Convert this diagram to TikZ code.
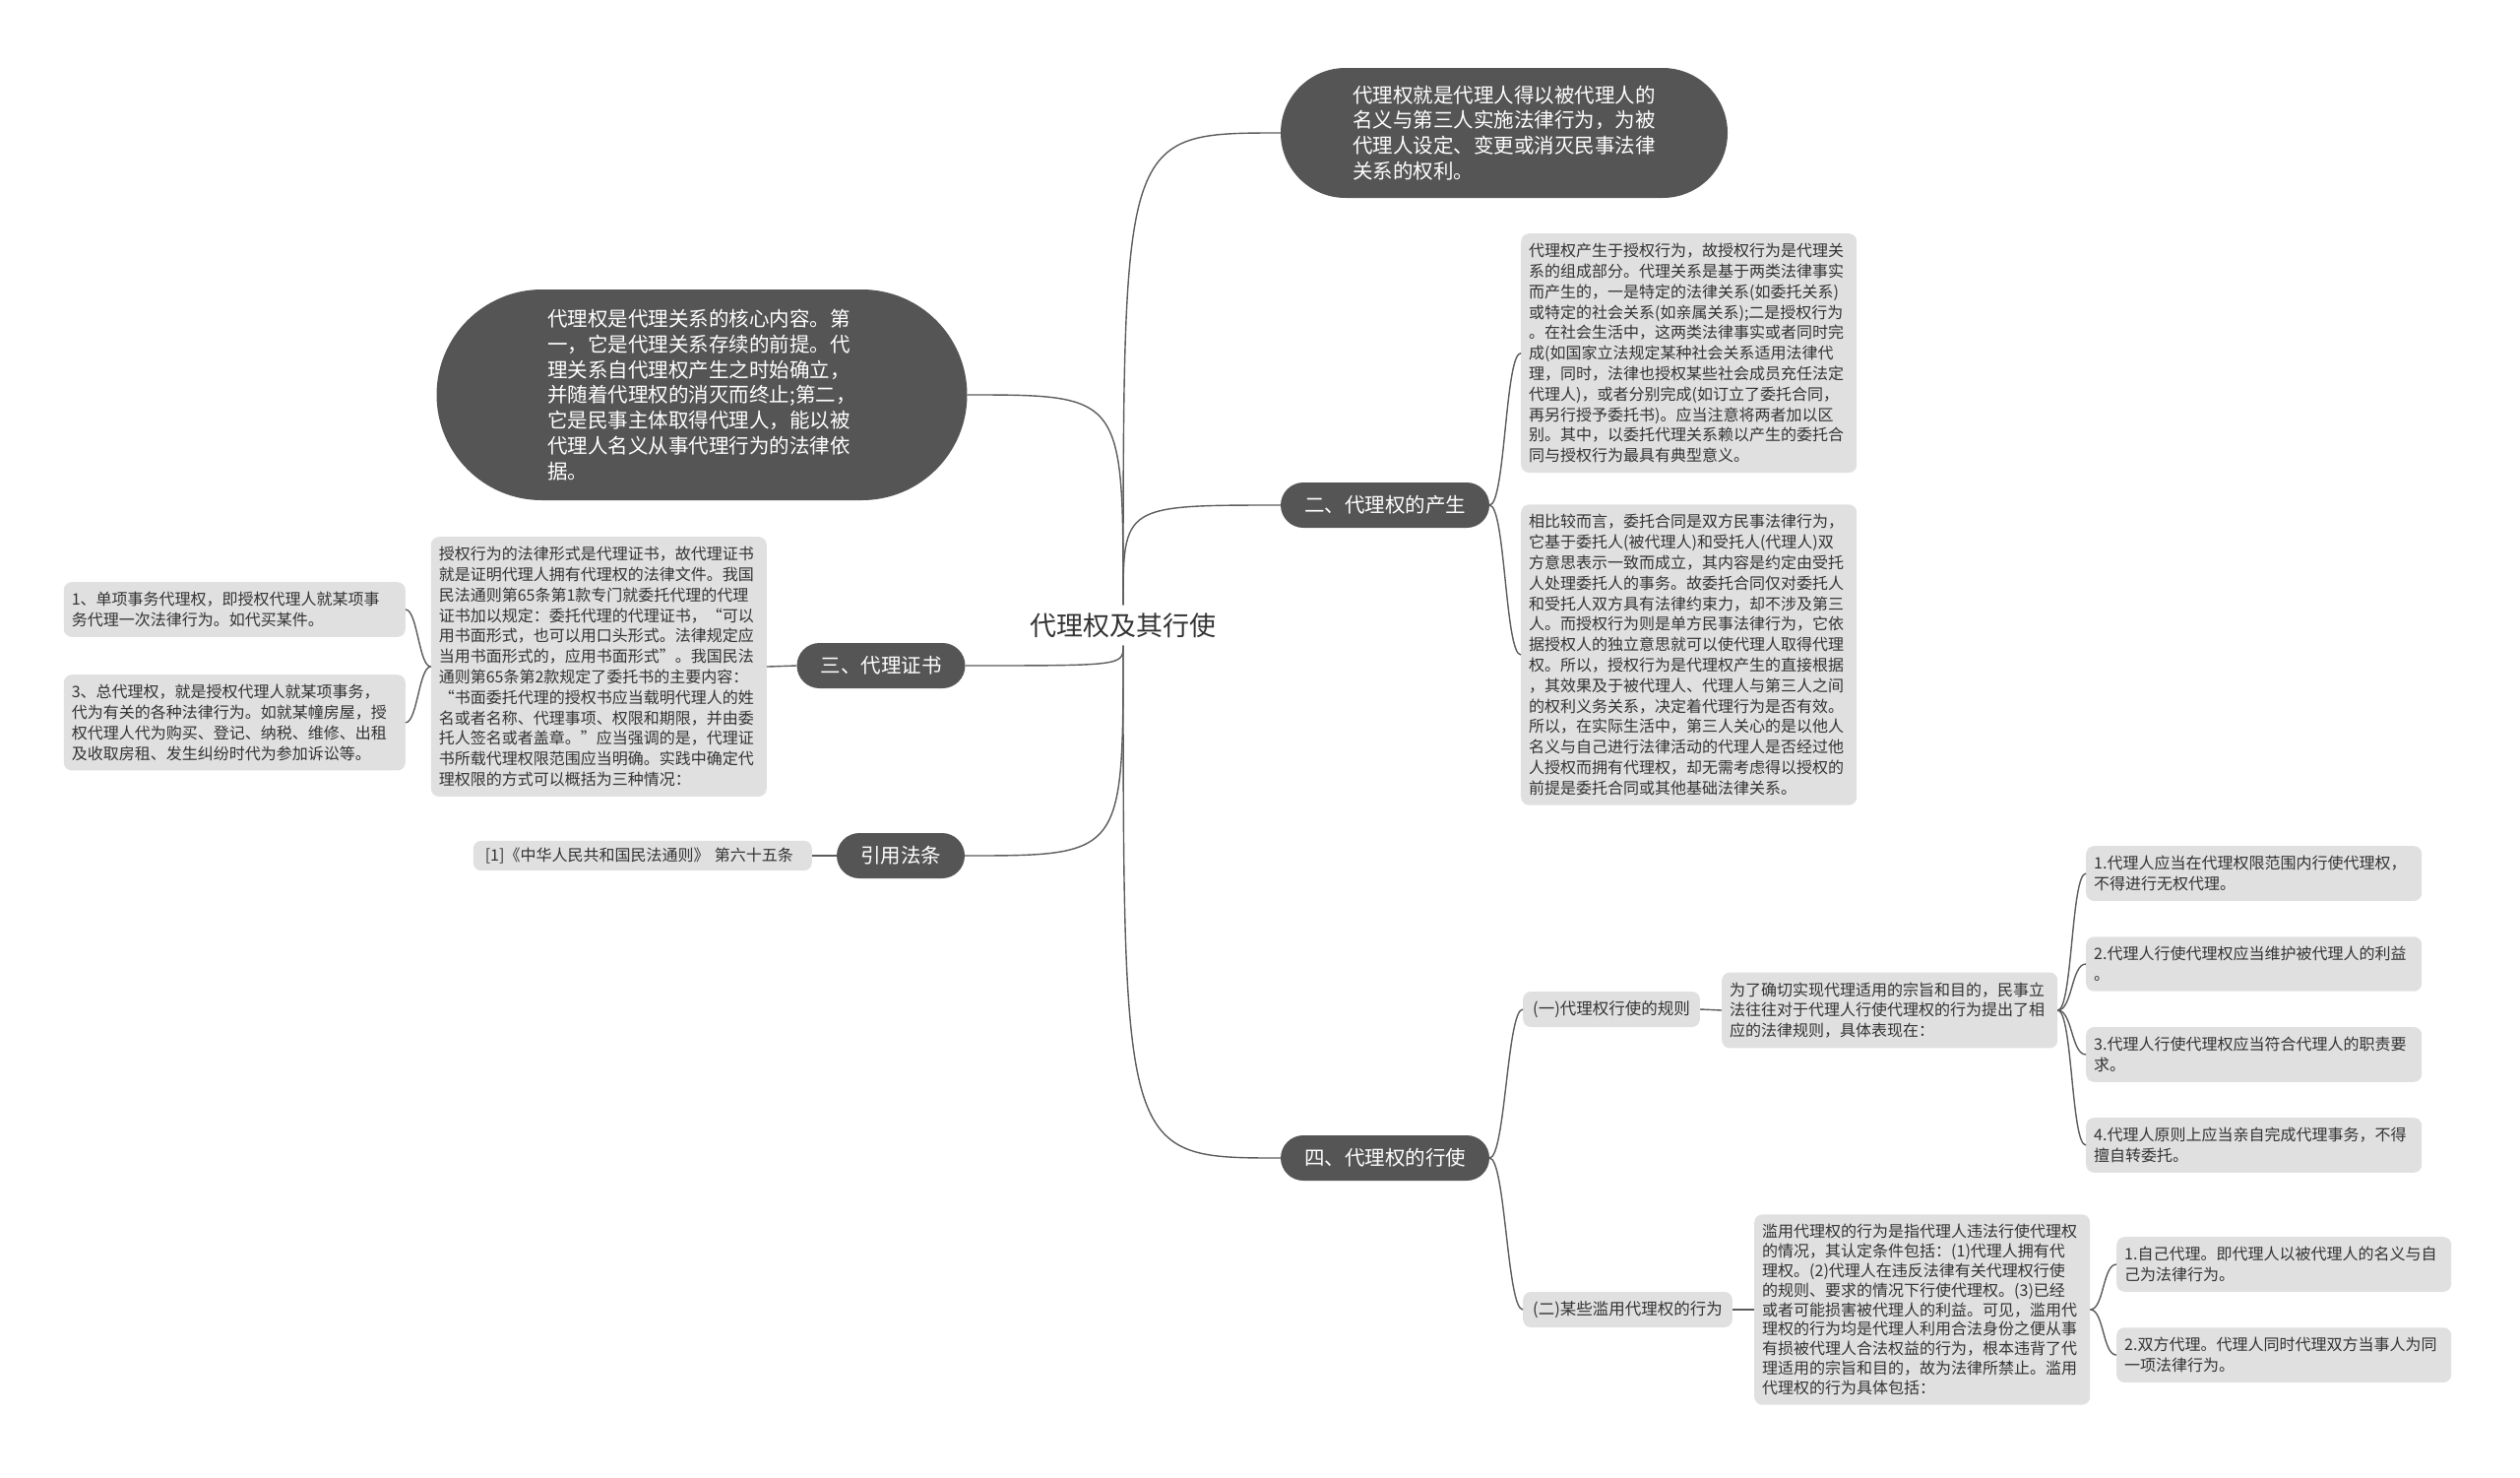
\documentclass[tikz,border=0pt]{standalone}
\usepackage{fontspec}
\setmainfont{Noto Sans CJK SC}
\usepackage{xcolor}
\definecolor{TopicGray}{HTML}{555555}
\definecolor{NoteGray}{HTML}{E0E0E0}
\definecolor{LinkGray}{HTML}{5C5C5C}
\definecolor{InkGray}{HTML}{333333}
\usepackage{tikz}
\usetikzlibrary{positioning,calc}

\begin{document}
\begin{tikzpicture}[x=1pt,y=-1pt,
  root/.style={text=InkGray,inner sep=8pt,font=\fontsize{27}{30}\selectfont},
  topic/.style={fill=TopicGray,text=white,rounded corners=23pt,minimum height=46pt,inner xsep=24pt,font=\fontsize{20.5}{24}\selectfont},
  bubble/.style={fill=TopicGray,text=white,align=left,font=\fontsize{20.5}{25.8}\selectfont},
  note/.style={fill=NoteGray,text=InkGray,rounded corners=8pt,align=left,text width=325pt,inner xsep=8pt,inner ysep=10pt,font=\fontsize{16}{20.8}\selectfont},
  tag/.style={fill=NoteGray,text=InkGray,rounded corners=8pt,inner xsep=10pt,minimum height=36pt,font=\fontsize{16.5}{20}\selectfont},
  link/.style={line width=1.4pt,LinkGray}
]
  \useasboundingbox (0,0) rectangle (2560,1500);

  \node[root] (root) at (1141,635) {代理权及其行使};

  % right side, top
  \node[bubble,minimum width=454pt,minimum height=132pt,rounded corners=66pt] (tdef) at (1528,135)
    {代理权就是代理人得以被代理人的\\名义与第三人实施法律行为，为被\\代理人设定、变更或消灭民事法律\\关系的权利。};
  \node[topic] (birth) at (1407,513) {二、代理权的产生};
  \node[note,anchor=north west] (birth1) at (1545,237)
    {代理权产生于授权行为，故授权行为是代理关\\系的组成部分。代理关系是基于两类法律事实\\而产生的，一是特定的法律关系(如委托关系)\\或特定的社会关系(如亲属关系);二是授权行为\\。在社会生活中，这两类法律事实或者同时完\\成(如国家立法规定某种社会关系适用法律代\\理，同时，法律也授权某些社会成员充任法定\\代理人)，或者分别完成(如订立了委托合同，\\再另行授予委托书)。应当注意将两者加以区\\别。其中，以委托代理关系赖以产生的委托合\\同与授权行为最具有典型意义。};
  \node[note,below=32pt of birth1] (birth2)
    {相比较而言，委托合同是双方民事法律行为，\\它基于委托人(被代理人)和受托人(代理人)双\\方意思表示一致而成立，其内容是约定由受托\\人处理委托人的事务。故委托合同仅对委托人\\和受托人双方具有法律约束力，却不涉及第三\\人。而授权行为则是单方民事法律行为，它依\\据授权人的独立意思就可以使代理人取得代理\\权。所以，授权行为是代理权产生的直接根据\\，其效果及于被代理人、代理人与第三人之间\\的权利义务关系，决定着代理行为是否有效。\\所以，在实际生活中，第三人关心的是以他人\\名义与自己进行法律活动的代理人是否经过他\\人授权而拥有代理权，却无需考虑得以授权的\\前提是委托合同或其他基础法律关系。};

  % left side
  \node[bubble,minimum width=539pt,minimum height=214pt,rounded corners=107pt] (core) at (713,401)
    {代理权是代理关系的核心内容。第\\一，它是代理关系存续的前提。代\\理关系自代理权产生之时始确立，\\并随着代理权的消灭而终止;第二，\\它是民事主体取得代理人，能以被\\代理人名义从事代理行为的法律依\\据。};
  \node[topic] (cert) at (895,676) {三、代理证书};
  \node[note,anchor=north east] (cert1) at (779,545)
    {授权行为的法律形式是代理证书，故代理证书\\就是证明代理人拥有代理权的法律文件。我国\\民法通则第65条第1款专门就委托代理的代理\\证书加以规定：委托代理的代理证书，“可以\\用书面形式，也可以用口头形式。法律规定应\\当用书面形式的，应用书面形式”。我国民法\\通则第65条第2款规定了委托书的主要内容：\\“书面委托代理的授权书应当载明代理人的姓\\名或者名称、代理事项、权限和期限，并由委\\托人签名或者盖章。”应当强调的是，代理证\\书所载代理权限范围应当明确。实践中确定代\\理权限的方式可以概括为三种情况：};
  \node[note,text width=331pt,anchor=north east] (kind1) at (412,591)
    {1、单项事务代理权，即授权代理人就某项事\\务代理一次法律行为。如代买某件。};
  \node[note,text width=331pt,below=38pt of kind1] (kind3)
    {3、总代理权，就是授权代理人就某项事务，\\代为有关的各种法律行为。如就某幢房屋，授\\权代理人代为购买、登记、纳税、维修、出租\\及收取房租、发生纠纷时代为参加诉讼等。};
  \node[topic] (law) at (915,869) {引用法条};
  \node[note,text width=320pt,inner xsep=12pt,inner ysep=7pt,anchor=east] (law1) at (825,869)
    {[1]《中华人民共和国民法通则》 第六十五条};

  % right side, bottom
  \node[topic] (use) at (1407,1176) {四、代理权的行使};
  \node[tag,anchor=west] (rules) at (1547,1025) {(一)代理权行使的规则};
  \node[note,anchor=west] (rules0) at (1749,1026)
    {为了确切实现代理适用的宗旨和目的，民事立\\法往往对于代理人行使代理权的行为提出了相\\应的法律规则，具体表现在：};
  \node[note,anchor=north west] (rule1) at (2119,859)
    {1.代理人应当在代理权限范围内行使代理权，\\不得进行无权代理。};
  \node[note,below=36pt of rule1] (rule2)
    {2.代理人行使代理权应当维护被代理人的利益\\。};
  \node[note,below=36pt of rule2] (rule3)
    {3.代理人行使代理权应当符合代理人的职责要\\求。};
  \node[note,below=36pt of rule3] (rule4)
    {4.代理人原则上应当亲自完成代理事务，不得\\擅自转委托。};
  \node[tag,anchor=west] (abuse) at (1547,1330) {(二)某些滥用代理权的行为};
  \node[note,font=\fontsize{16}{19.8}\selectfont,anchor=west] (abuse0) at (1782,1330)
    {滥用代理权的行为是指代理人违法行使代理权\\的情况，其认定条件包括：(1)代理人拥有代\\理权。(2)代理人在违反法律有关代理权行使\\的规则、要求的情况下行使代理权。(3)已经\\或者可能损害被代理人的利益。可见，滥用代\\理权的行为均是代理人利用合法身份之便从事\\有损被代理人合法权益的行为，根本违背了代\\理适用的宗旨和目的，故为法律所禁止。滥用\\代理权的行为具体包括：};
  \node[note,text width=324pt,anchor=north west] (abuse1) at (2150,1256)
    {1.自己代理。即代理人以被代理人的名义与自\\己为法律行为。};
  \node[note,text width=324pt,below=36pt of abuse1] (abuse2)
    {2.双方代理。代理人同时代理双方当事人为同\\一项法律行为。};

  % links from the root
  \draw[link] (root.north) .. controls (root.north |- tdef.west) .. (tdef.west);
  \draw[link] (root.north) .. controls (root.north |- birth.west) .. (birth.west);
  \draw[link] (root.north) .. controls (root.north |- core.east) .. (core.east);
  \draw[link] (root.south) .. controls (root.south |- cert.east) .. (cert.east);
  \draw[link] (root.south) .. controls (root.south |- law.east) .. (law.east);
  \draw[link] (root.south) .. controls (root.south |- use.west) .. (use.west);

  % links between branches and notes
  \draw[link] (birth.east) .. controls +(16,0) and +(-16,0) .. (birth1.west);
  \draw[link] (birth.east) .. controls +(16,0) and +(-16,0) .. (birth2.west);
  \draw[link] (cert.west) -- (cert1.east);
  \draw[link] (cert1.west) .. controls +(-12,0) and +(12,0) .. (kind1.east);
  \draw[link] (cert1.west) .. controls +(-12,0) and +(12,0) .. (kind3.east);
  \draw[link] (law.west) -- (law1.east);
  \draw[link] (use.east) .. controls +(16,0) and +(-16,0) .. (rules.west);
  \draw[link] (use.east) .. controls +(16,0) and +(-16,0) .. (abuse.west);
  \draw[link] (rules.east) -- (rules0.west);
  \draw[link] (rules0.east) .. controls +(15,0) and +(-15,0) .. (rule1.west);
  \draw[link] (rules0.east) .. controls +(15,0) and +(-15,0) .. (rule2.west);
  \draw[link] (rules0.east) .. controls +(15,0) and +(-15,0) .. (rule3.west);
  \draw[link] (rules0.east) .. controls +(15,0) and +(-15,0) .. (rule4.west);
  \draw[link] (abuse.east) -- (abuse0.west);
  \draw[link] (abuse0.east) .. controls +(14,0) and +(-14,0) .. (abuse1.west);
  \draw[link] (abuse0.east) .. controls +(14,0) and +(-14,0) .. (abuse2.west);
\end{tikzpicture}
\end{document}
